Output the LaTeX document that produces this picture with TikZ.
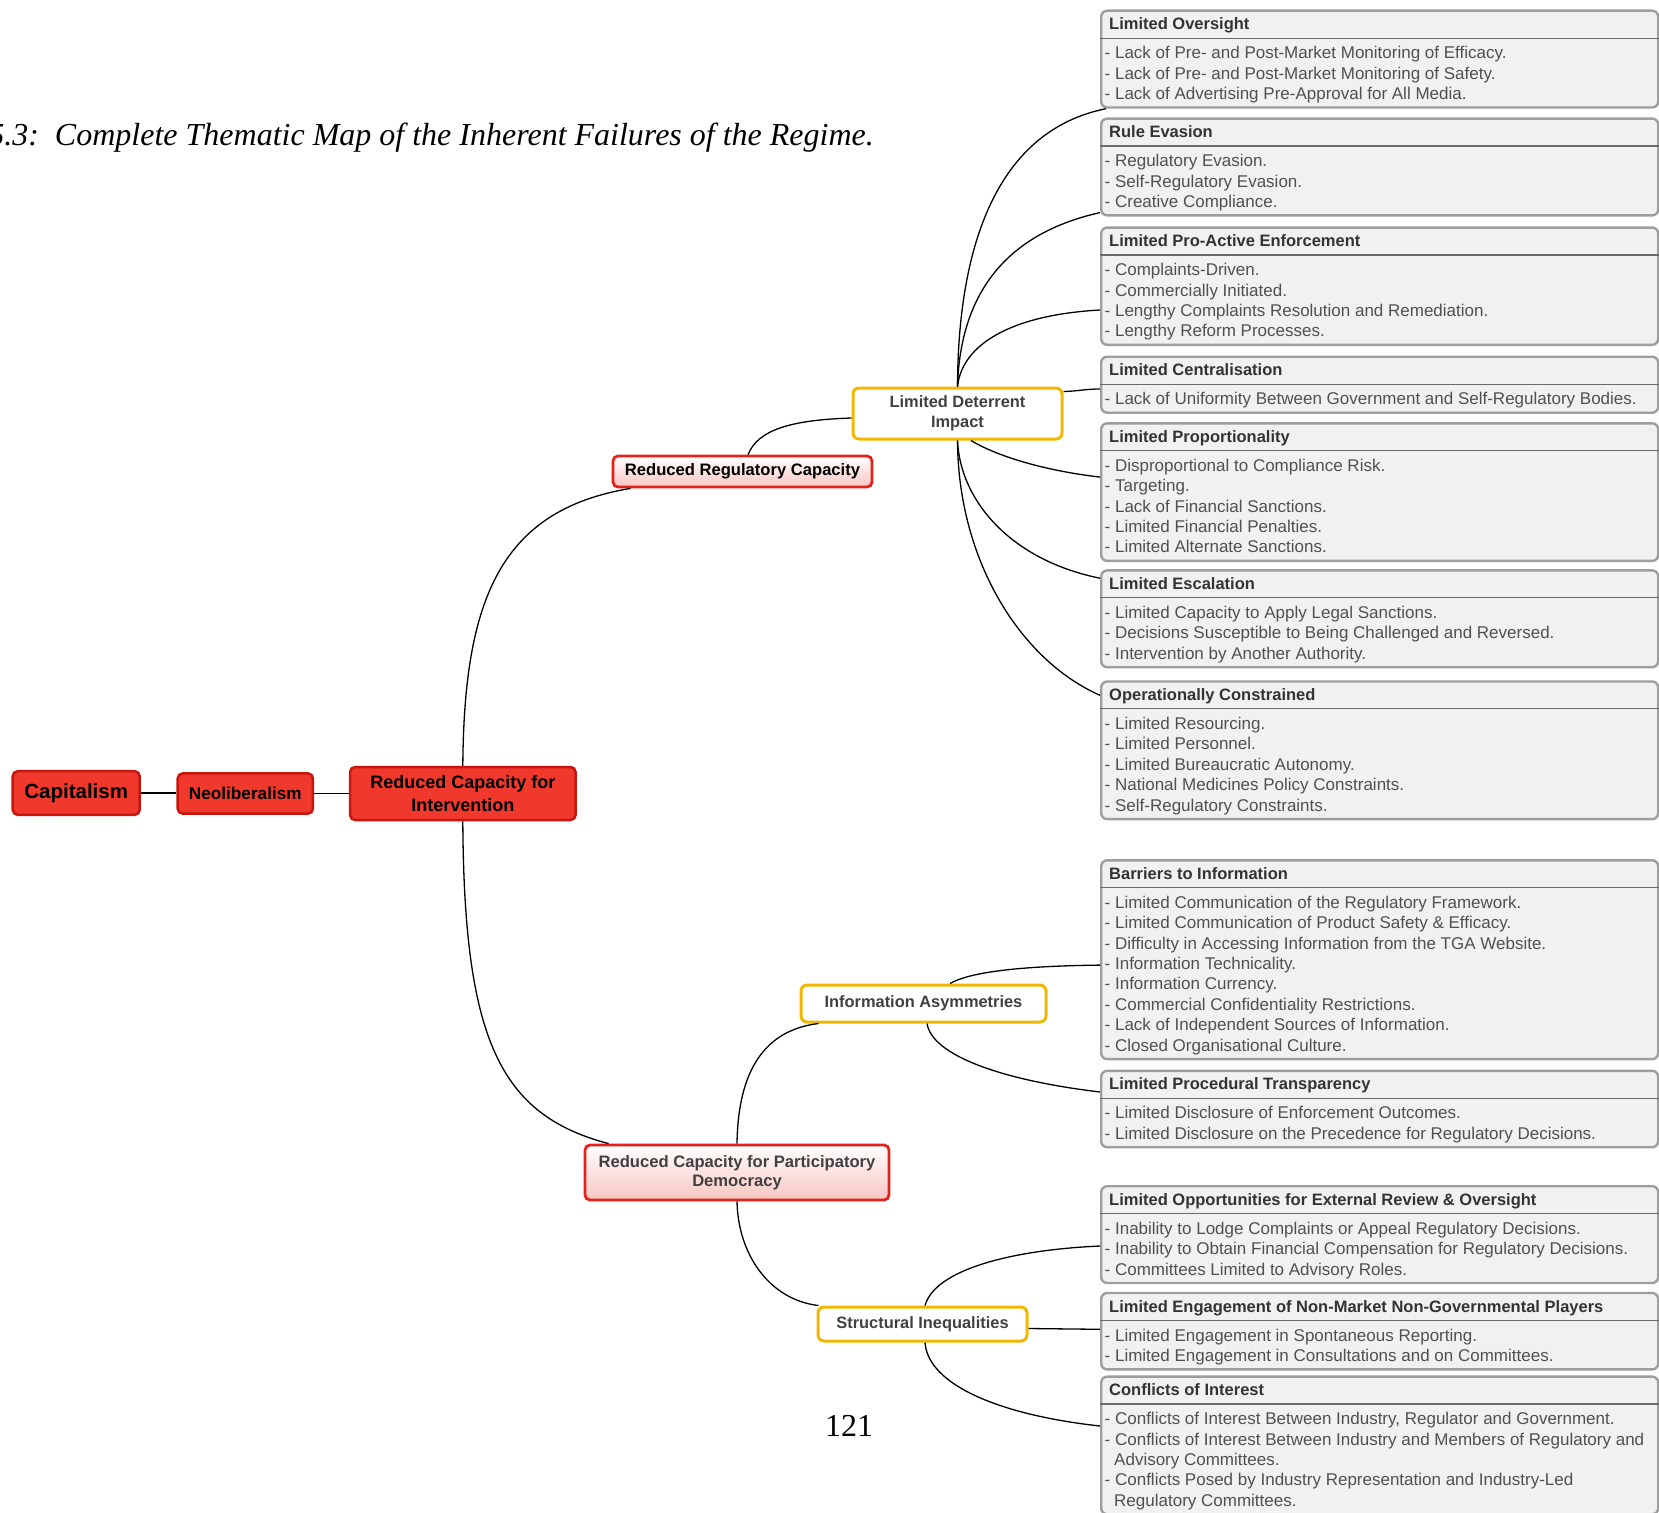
\documentclass[tikz,border=0pt]{standalone}
\usepackage{fontspec}
\setmainfont{Liberation Serif}
\setsansfont{Liberation Sans}
\usetikzlibrary{calc}

\definecolor{nodered}{HTML}{F0382C}
\definecolor{nodeborder}{HTML}{C8160E}
\definecolor{pinkborder}{HTML}{E3231B}
\definecolor{pinkfill}{HTML}{F8C6C2}
\definecolor{goldline}{HTML}{F2B700}
\definecolor{boxfill}{HTML}{F1F1F1}
\definecolor{boxline}{HTML}{9E9E9E}
\definecolor{sepline}{HTML}{6A6A6A}
\definecolor{titletext}{HTML}{333333}
\definecolor{itemtext}{HTML}{505050}
\definecolor{subtext}{HTML}{404040}

\tikzset{
  redbox/.style={draw=nodeborder, fill=nodered, line width=2.5pt, rounded corners=5pt,
    inner sep=0pt, align=center, text=black,
    font=\sffamily\bfseries\fontsize{18}{23}\selectfont},
  pinkbox/.style={draw=pinkborder, top color=white, bottom color=pinkfill, line width=2.8pt,
    rounded corners=5pt, inner sep=0pt, align=center,
    font=\sffamily\bfseries\fontsize{16.6}{19.6}\selectfont},
  goldbox/.style={draw=goldline, fill=white, line width=3pt, rounded corners=6pt,
    inner sep=0pt, align=center, text=subtext,
    font=\sffamily\bfseries\fontsize{16.4}{20}\selectfont},
  dbox/.style={draw=boxline, line width=2.4pt, fill=boxfill, rounded corners=6pt,
    anchor=north west, minimum width=557pt, inner sep=0pt},
  dsep/.style={draw=sepline, line width=1.1pt},
  dtitle/.style={anchor=base west, inner sep=0pt, text=titletext,
    font=\sffamily\bfseries\fontsize{16.5}{20}\selectfont},
  ditems/.style={anchor=north west, inner sep=0pt, align=left, text=itemtext,
    font=\sffamily\fontsize{17}{20.4}\selectfont},
  link/.style={draw=black, line width=1.3pt},
}

% detail box: name, top edge, number of text lines, heading, lines
\newcommand\detailbox[5]{%
  \pgfmathsetmacro\boxh{56+(#3-1)*20.4}
  \node[dbox, minimum height=\boxh pt] (#1) at (1100,#2) {};
  \draw[dsep] ([yshift=-28.6pt]#1.north west) -- ([yshift=-28.6pt]#1.north east);
  \node[dtitle] (#1-title) at ([xshift=9pt,yshift=-20.3pt]#1.north west) {#4};
  \node[ditems] (#1-items) at ([xshift=4.5pt,yshift=-36pt]#1.north west)
    {\rule{0pt}{13pt}#5};
}

\begin{document}
\begin{tikzpicture}[x=1pt, y=-1pt]
\useasboundingbox[fill=white] (0,0) rectangle (1659,1512);

% caption and page number
\node[anchor=base east, inner sep=0pt, font=\rmfamily\itshape\fontsize{32}{38}\selectfont]
  (caption) at (874,145) {Figure 5.3:\ \ Complete Thematic Map of the Inherent Failures of the Regime.};
\node[anchor=base, inner sep=0pt, font=\rmfamily\fontsize{32}{38}\selectfont]
  (pageno) at (849,1436) {121};

% detail boxes
\detailbox{b1}{9.5}{3}{Limited Oversight}{%
- Lack of Pre- and Post-Market Monitoring of Efficacy.\\
- Lack of Pre- and Post-Market Monitoring of Safety.\\
- Lack of Advertising Pre-Approval for All Media.}
\detailbox{b2}{117.4}{3}{Rule Evasion}{%
- Regulatory Evasion.\\
- Self-Regulatory Evasion.\\
- Creative Compliance.}
\detailbox{b3}{226.4}{4}{Limited Pro-Active Enforcement}{%
- Complaints-Driven.\\
- Commercially Initiated.\\
- Lengthy Complaints Resolution and Remediation.\\
- Lengthy Reform Processes.}
\detailbox{b4}{355.5}{1}{Limited Centralisation}{%
- Lack of Uniformity Between Government and Self-Regulatory Bodies.}
\detailbox{b5}{422.1}{5}{Limited Proportionality}{%
- Disproportional to Compliance Risk.\\
- Targeting.\\
- Lack of Financial Sanctions.\\
- Limited Financial Penalties.\\
- Limited Alternate Sanctions.}
\detailbox{b6}{569.2}{3}{Limited Escalation}{%
- Limited Capacity to Apply Legal Sanctions.\\
- Decisions Susceptible to Being Challenged and Reversed.\\
- Intervention by Another Authority.}
\detailbox{b7}{680.3}{5}{Operationally Constrained}{%
- Limited Resourcing.\\
- Limited Personnel.\\
- Limited Bureaucratic Autonomy.\\
- National Medicines Policy Constraints.\\
- Self-Regulatory Constraints.}
\detailbox{b8}{859.1}{8}{Barriers to Information}{%
- Limited Communication of the Regulatory Framework.\\
- Limited Communication of Product Safety \& Efficacy.\\
- Difficulty in Accessing Information from the TGA Website.\\
- Information Technicality.\\
- Information Currency.\\
- Commercial Confidentiality Restrictions.\\
- Lack of Independent Sources of Information.\\
- Closed Organisational Culture.}
\detailbox{b9}{1069.6}{2}{Limited Procedural Transparency}{%
- Limited Disclosure of Enforcement Outcomes.\\
- Limited Disclosure on the Precedence for Regulatory Decisions.}
\detailbox{b10}{1185}{3}{Limited Opportunities for External Review \& Oversight}{%
- Inability to Lodge Complaints or Appeal Regulatory Decisions.\\
- Inability to Obtain Financial Compensation for Regulatory Decisions.\\
- Committees Limited to Advisory Roles.}
\detailbox{b11}{1291.8}{2}{Limited Engagement of Non-Market Non-Governmental Players}{%
- Limited Engagement in Spontaneous Reporting.\\
- Limited Engagement in Consultations and on Committees.}
\detailbox{b12}{1375.4}{5}{Conflicts of Interest}{%
- Conflicts of Interest Between Industry, Regulator and Government.\\
- Conflicts of Interest Between Industry and Members of Regulatory and\\
\hspace*{9.5pt}Advisory Committees.\\
- Conflicts Posed by Industry Representation and Industry-Led\\
\hspace*{9.5pt}Regulatory Committees.}

% main chain
\node[redbox, minimum width=127pt, minimum height=43.6pt,
  font=\sffamily\bfseries\fontsize{20.5}{24}\selectfont] (cap) at (76.2,793) {Capitalism};
\node[redbox, minimum width=135.3pt, minimum height=40.2pt,
  font=\sffamily\bfseries\fontsize{17.2}{21}\selectfont] (neo) at (245.3,793.5) {Neoliberalism};
\node[redbox, minimum width=225.5pt, minimum height=53pt] (rci) at (462.8,793.5)
  {Reduced Capacity for\\Intervention};

% second level
\node[pinkbox, text=black, minimum width=259pt, minimum height=31pt] (rrc) at (742.5,471.5)
  {Reduced Regulatory Capacity};
\node[pinkbox, text=subtext, minimum width=304pt, minimum height=55pt] (rcpd) at (737,1172.5)
  {Reduced Capacity for Participatory\\Democracy};

% third level
\node[goldbox, minimum width=209pt, minimum height=51pt] (ldi) at (957.5,413.5)
  {Limited Deterrent\\Impact};
\node[goldbox, minimum width=245pt, minimum height=37pt] (ia) at (923.5,1003.5)
  {Information Asymmetries};
\node[goldbox, minimum width=209pt, minimum height=34pt] (si) at (922.5,1324)
  {Structural Inequalities};

% connectors
\begin{scope}[link]
\draw (cap.east) -- (cap.east -| neo.west);
\draw (neo.east) -- (neo.east -| rci.west);
\draw (rci.north) .. controls (464,600) and (500,510) .. ([xshift=19pt]rrc.south west);
\draw (rci.south) .. controls (464,1040) and (500,1115) .. ([xshift=25pt]rcpd.north west);
\draw ([xshift=5.5pt]rrc.north) .. controls (758,430) and (790,420) .. ([yshift=-4.5pt]ldi.west);

\draw (ldi.north) .. controls (958,240) and (1000,130) .. ([xshift=6pt]b1.south west);
\draw (ldi.north) .. controls (960,300) and (1000,235) .. ([yshift=4pt]b2.south west);
\draw (ldi.north) .. controls (962,345) and (1010,315) .. ([yshift=36pt]b3.south west);
\draw ([yshift=-5pt]ldi.north east) .. controls (1080,391) and (1085,389) .. ([yshift=-33.5pt]b4.north west);
\draw ([xshift=13.5pt]ldi.south) .. controls (995,455) and (1040,470) .. ([yshift=-55pt]b5.north west);
\draw (ldi.south) .. controls (960,500) and (1010,560) .. ([yshift=-9pt]b6.north west);
\draw (ldi.south) .. controls (958,560) and (1020,660) .. ([yshift=-15pt]b7.north west);

\draw (rcpd.north) .. controls (738,1070) and (765,1030) .. ([xshift=19pt]ia.south west);
\draw ([xshift=26.5pt]ia.north) .. controls (970,972) and (1020,966) .. ([yshift=-106pt]b8.north west);
\draw ([xshift=3.5pt]ia.south) .. controls (932,1055) and (1000,1080) .. ([yshift=-22.4pt]b9.north west);

\draw (rcpd.south) .. controls (738,1255) and (770,1300) .. ([xshift=2pt]si.north west);
\draw ([xshift=2.5pt]si.north) .. controls (935,1270) and (1010,1250) .. ([yshift=-61pt]b10.north west);
\draw ([yshift=-4.5pt]si.east) -- ([yshift=-37.5pt]b11.north west);
\draw ([xshift=2.5pt]si.south) .. controls (928,1385) and (1000,1415) .. ([yshift=-50.6pt]b12.north west);
\end{scope}
\end{tikzpicture}
\end{document}
